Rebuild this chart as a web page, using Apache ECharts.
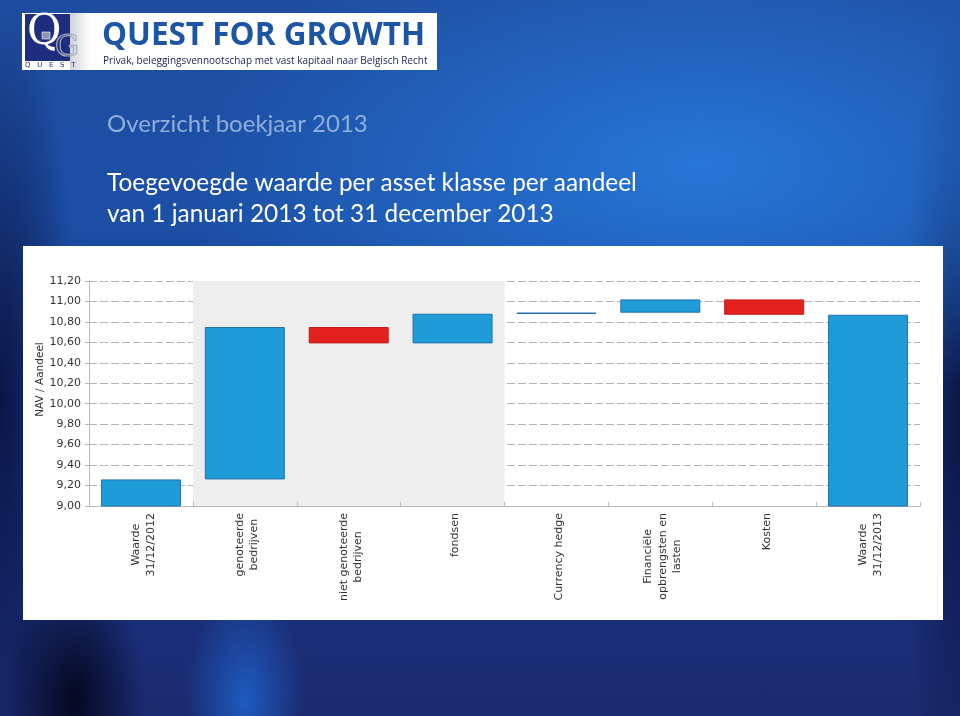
<!DOCTYPE html>
<html>
<head>
<meta charset="utf-8">
<script src="https://cdn.jsdelivr.net/npm/echarts@6/dist/echarts.min.js"></script>
<style>
  html,body{margin:0;padding:0;width:960px;height:716px;overflow:hidden;}
  #bg{position:absolute;left:0;top:0;width:960px;height:716px;
    background:
      radial-gradient(ellipse 60px 110px at 245px 700px, rgba(30,100,205,0.85), rgba(30,100,205,0) 100%),
      radial-gradient(ellipse 70px 140px at 75px 700px, rgba(3,6,28,0.95), rgba(3,6,28,0) 100%),
      radial-gradient(ellipse 520px 250px at 700px 165px, rgba(40,122,220,0.9), rgba(40,122,220,0) 100%),
      radial-gradient(ellipse 80px 400px at 0px 400px, rgba(10,16,60,0.9), rgba(10,16,60,0) 100%),
      radial-gradient(ellipse 60px 400px at 960px 420px, rgba(10,16,60,0.9), rgba(10,16,60,0) 100%),
      linear-gradient(180deg, #1e4d9f 0%, #1c4fa6 30%, #1a3380 80%, #1b2a6e 100%);
  }
  #chart{position:absolute;left:0;top:0;width:960px;height:716px;}
</style>
</head>
<body>
<div id="bg"></div>
<div id="chart"></div>
<script>
// ---- data ----
const categories = [
  'Waarde\n31/12/2012',
  'genoteerde\nbedrijven',
  'niet genoteerde\nbedrijven',
  'fondsen',
  'Currency hedge',
  'Financiële\nopbrengsten en\nlasten',
  'Kosten',
  'Waarde\n31/12/2013'
];
const navStart = 9.26;                                   // NAV 31/12/2012
const contributions = [1.49, -0.16, 0.29, 0.01, 0.13, -0.15]; // per asset class
const navEnd = 10.87;                                    // NAV 31/12/2013
const yMin = 9.0, yMax = 11.2, yStep = 0.2;

// ---- build waterfall (base + visible part) ----
const baseVals = [0];
const barVals = [navStart];
const kinds = ['total'];
let running = navStart;
contributions.forEach(function (c) {
  const next = +(running + c).toFixed(4);
  baseVals.push(Math.min(running, next));
  barVals.push(+Math.abs(c).toFixed(4));
  kinds.push(c >= 0 ? 'up' : 'down');
  running = next;
});
baseVals.push(0);
barVals.push(navEnd);
kinds.push('total');

const BLUE = '#1f9bd8', BLUE_EDGE = '#2172ad';
const RED = '#e3211e', RED_EDGE = '#c41a18';
const labelFont = '"DejaVu Sans", Verdana, sans-serif';

const chart = echarts.init(document.getElementById('chart'), null, {renderer: 'canvas'});

const option = {
  backgroundColor: 'transparent',
  animation: false,
  title: [
    {
      text: 'Overzicht boekjaar 2013',
      left: 102, top: 107,
      textStyle: {fontFamily: 'Lato, "Open Sans", sans-serif', fontWeight: 'normal', fontSize: 24, color: '#8fafda'}
    },
    {
      text: 'Toegevoegde waarde per asset klasse per aandeel\nvan 1 januari 2013 tot 31 december 2013',
      left: 102, top: 163,
      textStyle: {fontFamily: 'Lato, "Open Sans", sans-serif', fontWeight: 'normal', fontSize: 24.4, lineHeight: 31, color: '#ffffff'}
    }
  ],
  graphic: [
    // white chart panel
    {type: 'rect', z: -10, silent: true, shape: {x: 23, y: 246, width: 920, height: 374}, style: {fill: '#ffffff'}},
    // logo banner
    {type: 'rect', z: -10, silent: true, shape: {x: 22, y: 13, width: 415, height: 57}, style: {fill: '#ffffff'}},
    {type: 'rect', z: -9, silent: true, shape: {x: 70, y: 13, width: 20, height: 57},
      style: {fill: new echarts.graphic.LinearGradient(0, 0, 1, 0, [{offset: 0, color: '#cfd2dc'}, {offset: 1, color: '#ffffff'}])}},
    {type: 'rect', z: -8, silent: true, shape: {x: 25, y: 14, width: 45, height: 47}, style: {fill: '#1e2d7d'}},
    {type: 'text', z: -7, silent: true, style: {x: 27, y: 12, text: 'Q', fill: '#ffffff', font: 'normal 42px "DejaVu Serif", "Liberation Serif", serif'}},
    {type: 'rect', z: -6, silent: true, shape: {x: 42, y: 32, width: 8, height: 7}, style: {fill: '#8c93b4', stroke: '#ffffff', lineWidth: 0.6}},
    {type: 'text', z: -6, silent: true, style: {x: 55, y: 33, text: 'G', fill: 'rgba(0,0,0,0)', stroke: '#a9adba', lineWidth: 1.2, font: 'normal 30px "DejaVu Serif", "Liberation Serif", serif'}},
    {type: 'text', z: -6, silent: true, style: {x: 25, y: 62, text: 'Q   U   E   S   T', fill: '#1e2d7d', font: 'normal 7px "DejaVu Sans", sans-serif'}},
    {type: 'text', z: -6, silent: true, style: {x: 102, y: 20, text: 'QUEST FOR GROWTH', fill: '#1c55a3', font: 'bold 31.5px "Open Sans", sans-serif'}},
    {type: 'text', z: -6, silent: true, style: {x: 103, y: 56, text: 'Privak, beleggingsvennootschap met vast kapitaal naar Belgisch Recht', fill: '#1b2152', font: 'normal 10px "Open Sans", sans-serif'}}
  ],
  grid: {left: 89, right: 40, top: 281, bottom: 210, containLabel: false},
  xAxis: {
    type: 'category',
    data: categories,
    axisLine: {lineStyle: {color: '#b8b8b8'}},
    axisTick: {show: true, inside: true, length: 4, lineStyle: {color: '#b8b8b8'}},
    splitArea: {
      show: true,
      areaStyle: {color: ['rgba(255,255,255,0)', '#eeeeee', '#eeeeee', '#eeeeee', 'rgba(255,255,255,0)', 'rgba(255,255,255,0)', 'rgba(255,255,255,0)', 'rgba(255,255,255,0)']}
    },
    axisLabel: {
      interval: 0,
      rotate: 90,
      margin: 7,
      padding: [5, 0, 0, 0],
      formatter: function (v) { return v.split('\n').map(function (l) { return '{c|' + l + '}'; }).join('\n'); },
      rich: {c: {align: 'center', fontFamily: labelFont, fontSize: 11, lineHeight: 14.5, color: '#333333'}}
    }
  },
  yAxis: {
    type: 'value',
    min: yMin, max: yMax, interval: yStep,
    name: 'NAV / Aandeel',
    nameLocation: 'middle',
    nameGap: 43,
    nameMoveOverlap: false,
    nameTextStyle: {fontFamily: labelFont, fontSize: 10.5, color: '#333333', padding: [0, 0, 0, 28]},
    axisLine: {show: true, lineStyle: {color: '#b8b8b8'}},
    axisTick: {show: true, length: 4, lineStyle: {color: '#b8b8b8'}},
    axisLabel: {
      fontFamily: labelFont, fontSize: 11, color: '#333333', margin: 8,
      formatter: function (v) { return v.toFixed(2).replace('.', ','); }
    },
    splitLine: {show: true, lineStyle: {color: '#b4b4b4', type: [8, 3], width: 1}}
  },
  series: [
    {
      name: 'base', type: 'bar', stack: 'wf', barWidth: 80, silent: true,
      itemStyle: {color: 'rgba(0,0,0,0)'},
      data: baseVals
    },
    {
      name: 'NAV', type: 'bar', stack: 'wf', barWidth: 80,
      data: barVals.map(function (v, i) {
        const down = kinds[i] === 'down';
        const tiny = v < 0.02;
        return {value: v, itemStyle: {color: down ? RED : BLUE, borderColor: down ? RED_EDGE : BLUE_EDGE, borderWidth: tiny ? 1.5 : 1}};
      })
    }
  ]
};
chart.setOption(option);
</script>
</body>
</html>
